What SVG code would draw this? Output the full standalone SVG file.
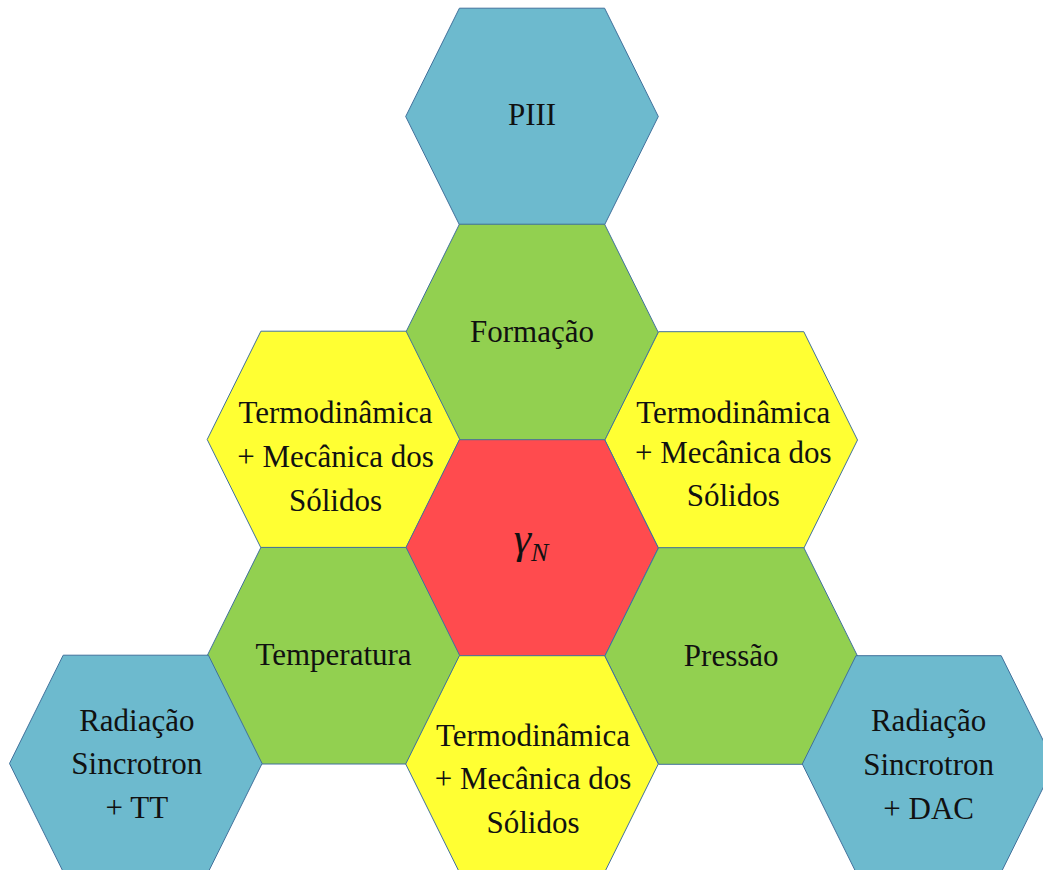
<svg xmlns="http://www.w3.org/2000/svg" width="1043" height="870" viewBox="0 0 1043 870">
  <style>
    .hex { stroke: #41719C; stroke-width: 1; }
    .blue { fill: #6DBACE; }
    .green { fill: #92D050; }
    .yellow { fill: #FFFF33; }
    .red { fill: #FF4B4E; }
    text { font-size: 31px; fill: #111; text-anchor: middle; }
    .math { font-style: italic; }
  </style>
  <defs>
    <path id="hx" d="M-126.3,0 L-72.6,-108.3 L72.6,-108.3 L126.3,0 L72.6,108.3 L-72.6,108.3 Z"/>
  </defs>
  <g id="connectors"></g>
  <g font-family="'Liberation Serif', 'Times New Roman', Times, serif">
  <g id="piii" transform="translate(532,116.5)">
    <use href="#hx" class="hex blue"/>
    <text x="0" y="8">PIII</text>
  </g>
  <g id="formacao" transform="translate(532,332.5)">
    <use href="#hx" class="hex green"/>
    <text x="0" y="9">Formação</text>
  </g>
  <g id="termo-left" transform="translate(333.5,439.5)">
    <use href="#hx" class="hex yellow"/>
    <text x="2" y="-17">Termodinâmica</text>
    <text x="2" y="27">+ Mecânica dos</text>
    <text x="2" y="71">Sólidos</text>
  </g>
  <g id="termo-right" transform="translate(731.2,440)">
    <use href="#hx" class="hex yellow"/>
    <text x="2" y="-17">Termodinâmica</text>
    <text x="2" y="23">+ Mecânica dos</text>
    <text x="2" y="66">Sólidos</text>
  </g>
  <g id="gamma" transform="translate(532,548)">
    <use href="#hx" class="hex red"/>
    <text x="-1" y="5" class="math" style="font-size:44px"><tspan>γ</tspan><tspan dy="8" style="font-size:26px">N</tspan></text>
  </g>
  <g id="temperatura" transform="translate(333.5,655.7)">
    <use href="#hx" class="hex green"/>
    <text x="0" y="9">Temperatura</text>
  </g>
  <g id="pressao" transform="translate(731.2,656)">
    <use href="#hx" class="hex green"/>
    <text x="0" y="10">Pressão</text>
  </g>
  <g id="termo-bottom" transform="translate(532,764)">
    <use href="#hx" class="hex yellow"/>
    <text x="1" y="-18">Termodinâmica</text>
    <text x="1" y="25">+ Mecânica dos</text>
    <text x="1" y="69">Sólidos</text>
  </g>
  <g id="radiacao-tt" transform="translate(135.8,763.5)">
    <use href="#hx" class="hex blue"/>
    <text x="1" y="-33">Radiação</text>
    <text x="1" y="10">Sincrotron</text>
    <text x="1" y="54">+ TT</text>
  </g>
  <g id="radiacao-dac" transform="translate(928.6,764)">
    <use href="#hx" class="hex blue"/>
    <text x="0" y="-33">Radiação</text>
    <text x="0" y="11">Sincrotron</text>
    <text x="0" y="55">+ DAC</text>
  </g>
  </g>
</svg>
